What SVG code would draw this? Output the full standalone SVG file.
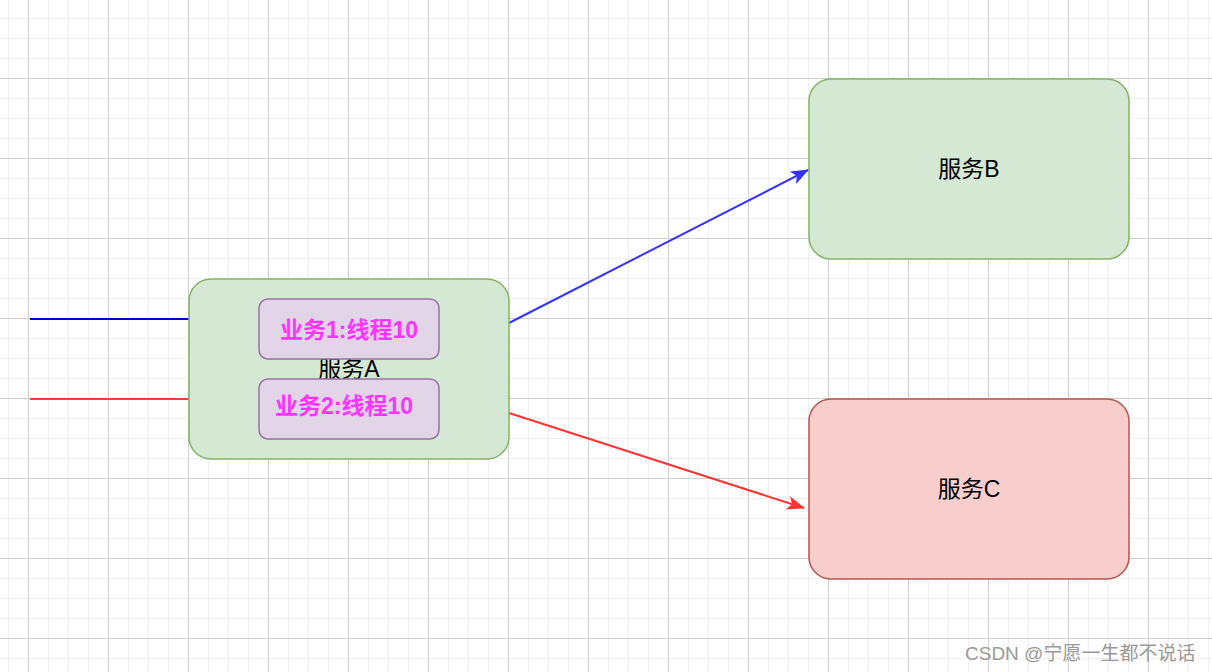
<svg xmlns="http://www.w3.org/2000/svg" width="1212" height="672" viewBox="0 0 1212 672">
<defs>
<pattern id="minor" x="8" y="18" width="20" height="20" patternUnits="userSpaceOnUse">
<path d="M0.5 0V20M0 0.5H20" fill="none" stroke="#f0f0f0" stroke-width="1"/>
</pattern>
<pattern id="major" x="28" y="78" width="80" height="80" patternUnits="userSpaceOnUse">
<path d="M0.5 0V80M0 0.5H80" fill="none" stroke="#d0d0d0" stroke-width="1"/>
</pattern>
<marker id="ab" viewBox="0 0 18 14" refX="17" refY="7" markerWidth="18" markerHeight="14" markerUnits="userSpaceOnUse" orient="auto">
<path d="M0 0L18 7L0 14L4.5 7Z" fill="#3333ff"/>
</marker>
<marker id="ar" viewBox="0 0 18 14" refX="17" refY="7" markerWidth="18" markerHeight="14" markerUnits="userSpaceOnUse" orient="auto">
<path d="M0 0L18 7L0 14L4.5 7Z" fill="#ff3333"/>
</marker>
</defs>
<style>
.g{fill:#d5e8d4;stroke:#82b366;stroke-width:1.5}
.r{fill:#f8cecc;stroke:#b85450;stroke-width:1.5}
.p{fill:#e1d5e7;stroke:#9673a6;stroke-width:1.5}
.t{font-family:"Liberation Sans","Noto Sans CJK SC",sans-serif;font-size:23px;fill:#000;text-anchor:middle;dominant-baseline:central}
.b{font-family:"Liberation Sans","Noto Sans CJK SC",sans-serif;font-size:23px;font-weight:bold;fill:#ff33ff;text-anchor:middle;dominant-baseline:central}
.w{font-family:"Liberation Sans","Noto Sans CJK SC",sans-serif;font-size:19px;fill:#999}
</style>
<rect width="1212" height="672" fill="#fff"/>
<rect width="1212" height="672" fill="url(#minor)"/>
<rect width="1212" height="672" fill="url(#major)"/>
<g id="connectors" fill="none" stroke-width="2">
<line x1="30" y1="319" x2="189" y2="319" stroke="#0000cc"/>
<line x1="30" y1="399" x2="189" y2="399" stroke="#ea4335"/>
<line x1="509" y1="323" x2="808" y2="170" stroke="#3333ff" marker-end="url(#ab)"/>
<line x1="509" y1="413" x2="804" y2="508" stroke="#ff3333" marker-end="url(#ar)"/>
</g>
<g id="serviceA">
<rect class="g" x="189" y="279" width="320" height="180" rx="22"/>
<text class="t" x="349" y="369">服务A</text>
</g>
<g id="task1">
<rect class="p" x="259" y="299" width="180" height="60" rx="9"/>
<text class="b" x="349" y="330">业务1:线程10</text>
</g>
<g id="task2">
<rect class="p" x="259" y="379" width="180" height="60" rx="9"/>
<text class="b" x="344" y="406">业务2:线程10</text>
</g>
<g id="serviceB">
<rect class="g" x="809" y="79" width="320" height="180" rx="22"/>
<text class="t" x="969" y="169">服务B</text>
</g>
<g id="serviceC">
<rect class="r" x="809" y="399" width="320" height="180" rx="22"/>
<text class="t" x="969" y="489">服务C</text>
</g>
<text class="w" x="965" y="660">CSDN @宁愿一生都不说话</text>
</svg>
